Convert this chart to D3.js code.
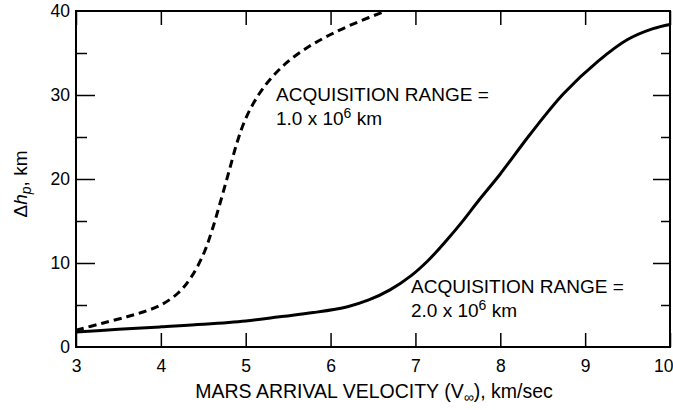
<!DOCTYPE html>
<html>
<head>
<meta charset="utf-8">
<style>
  body { margin: 0; background: white; }
  svg text { font-family: "Liberation Sans", Arial, sans-serif; fill: black; }
  .frame line, .frame path { stroke: black; }
</style>
</head>
<body>
<script src="https://cdnjs.cloudflare.com/ajax/libs/d3/7.8.5/d3.min.js"></script>
<script>
// values (velocity km/sec, delta hp km)
var xTicks = [3, 4, 5, 6, 7, 8, 9, 10];
var yLabels = [0, 10, 20, 30, 40];
var yMajor = [10, 20, 30];
var yMinor = [5, 15, 25, 35];

var range1V = [3.0, 3.3, 3.6, 3.8, 4.0, 4.2, 4.35, 4.5, 4.6, 4.7, 4.8, 4.9, 5.0, 5.15, 5.3, 5.5, 5.75, 6.0, 6.3, 6.65];
var range1H = [2.0, 2.8, 3.6, 4.2, 5.0, 6.4, 8.2, 11.0, 13.8, 17.2, 20.8, 24.4, 27.2, 30.0, 32.0, 34.0, 35.8, 37.2, 38.6, 40.0];

var range2V = [3.0, 3.5, 4.0, 4.5, 5.0, 5.4, 5.8, 6.2, 6.45, 6.7, 6.95, 7.15, 7.35, 7.55, 7.75, 8.0, 8.35, 8.75, 9.15, 9.5, 9.8, 10.0];
var range2H = [1.8, 2.1, 2.4, 2.7, 3.1, 3.6, 4.1, 4.8, 5.6, 6.8, 8.5, 10.3, 12.5, 14.9, 17.5, 20.6, 25.3, 30.2, 34.0, 36.6, 37.9, 38.4];

var width = 673, height = 410;
var svg = d3.select("body").append("svg")
    .attr("width", width)
    .attr("height", height);

var x = d3.scaleLinear().domain([3, 10]).range([76, 670]);
var y = d3.scaleLinear().domain([0, 40]).range([347, 11]);

// frame
svg.append("rect")
   .attr("x", x(3)).attr("y", y(40))
   .attr("width", x(10) - x(3)).attr("height", y(0) - y(40))
   .style("fill", "none").style("stroke", "black").style("stroke-width", 2);

// bottom axis with labels, ticks pointing in
var bottomAxis = svg.append("g").attr("class", "frame")
   .attr("transform", "translate(0," + y(0) + ")")
   .call(d3.axisBottom(x).tickValues(xTicks).tickSize(-14).tickPadding(13).tickFormat(d3.format("d")));
bottomAxis.selectAll("text")
   .style("font-size", "17.5px")
   .style("text-anchor", function(d) { return d == 10 ? "end" : "middle"; })
   .attr("x", function(d) { return d == 10 ? 3 : 0; });

// top ticks
var topAxis = svg.append("g").attr("class", "frame")
   .attr("transform", "translate(0," + y(40) + ")")
   .call(d3.axisTop(x).tickValues(xTicks).tickSize(-14).tickFormat(""));

// left side
var leftLab = svg.append("g").attr("class", "frame")
   .attr("transform", "translate(" + x(3) + ",0)")
   .call(d3.axisLeft(y).tickValues(yLabels).tickSize(0).tickPadding(6).tickFormat(d3.format("d")));
leftLab.selectAll("text").style("font-size", "17.5px");

var leftMaj = svg.append("g").attr("class", "frame")
   .attr("transform", "translate(" + x(3) + ",0)")
   .call(d3.axisLeft(y).tickValues(yMajor).tickSize(-19).tickFormat(""));
var leftMin = svg.append("g").attr("class", "frame")
   .attr("transform", "translate(" + x(3) + ",0)")
   .call(d3.axisLeft(y).tickValues(yMinor).tickSize(-11).tickFormat(""));

// right side
var rightMaj = svg.append("g").attr("class", "frame")
   .attr("transform", "translate(" + x(10) + ",0)")
   .call(d3.axisRight(y).tickValues(yMajor).tickSize(-17).tickFormat(""));
var rightMin = svg.append("g").attr("class", "frame")
   .attr("transform", "translate(" + x(10) + ",0)")
   .call(d3.axisRight(y).tickValues(yMinor).tickSize(-9).tickFormat(""));

[bottomAxis, topAxis, leftLab, leftMaj, leftMin, rightMaj, rightMin].forEach(function(g) {
  g.select(".domain").remove();
  g.selectAll("line").style("stroke-width", 1.5);
});

// curves
var line = d3.line()
   .x(function(d) { return x(d[0]); })
   .y(function(d) { return y(d[1]); })
   .curve(d3.curveCatmullRom.alpha(0.5));

svg.append("path")
   .datum(d3.zip(range1V, range1H))
   .attr("d", line)
   .style("fill", "none").style("stroke", "black")
   .style("stroke-width", 3)
   .style("stroke-dasharray", "8,5");

svg.append("path")
   .datum(d3.zip(range2V, range2H))
   .attr("d", line)
   .style("fill", "none").style("stroke", "black")
   .style("stroke-width", 3);

// curve labels
function rangeLabel(px, py, mant) {
  var t = svg.append("text").attr("x", px).attr("y", py).style("font-size", "19px");
  t.text("ACQUISITION RANGE =");
  var t2 = svg.append("text").attr("x", px).attr("y", py + 24).style("font-size", "19px");
  t2.append("tspan").text(mant + " x 10");
  t2.append("tspan").attr("dy", -7).style("font-size", "14px").text("6");
  t2.append("tspan").attr("dy", 7).text(" km");
}
rangeLabel(276, 101, "1.0");
rangeLabel(411, 293, "2.0");

// axis titles
var xt = svg.append("text")
   .attr("x", 374).attr("y", 398)
   .style("text-anchor", "middle").style("font-size", "19.5px");
xt.append("tspan").text("MARS ARRIVAL VELOCITY (V");
xt.append("tspan").attr("dy", 4).style("font-size", "14px").text("\u221E");
xt.append("tspan").attr("dy", -4).text("), km/sec");

var yt = svg.append("text")
   .attr("transform", "translate(27,184) rotate(-90)")
   .style("text-anchor", "middle").style("font-size", "19px");
yt.append("tspan").text("\u0394");
yt.append("tspan").style("font-style", "italic").text("h");
yt.append("tspan").attr("dy", 4).style("font-size", "14px").style("font-style", "italic").text("p");
yt.append("tspan").attr("dy", -4).text(", km");
</script>
</body>
</html>
